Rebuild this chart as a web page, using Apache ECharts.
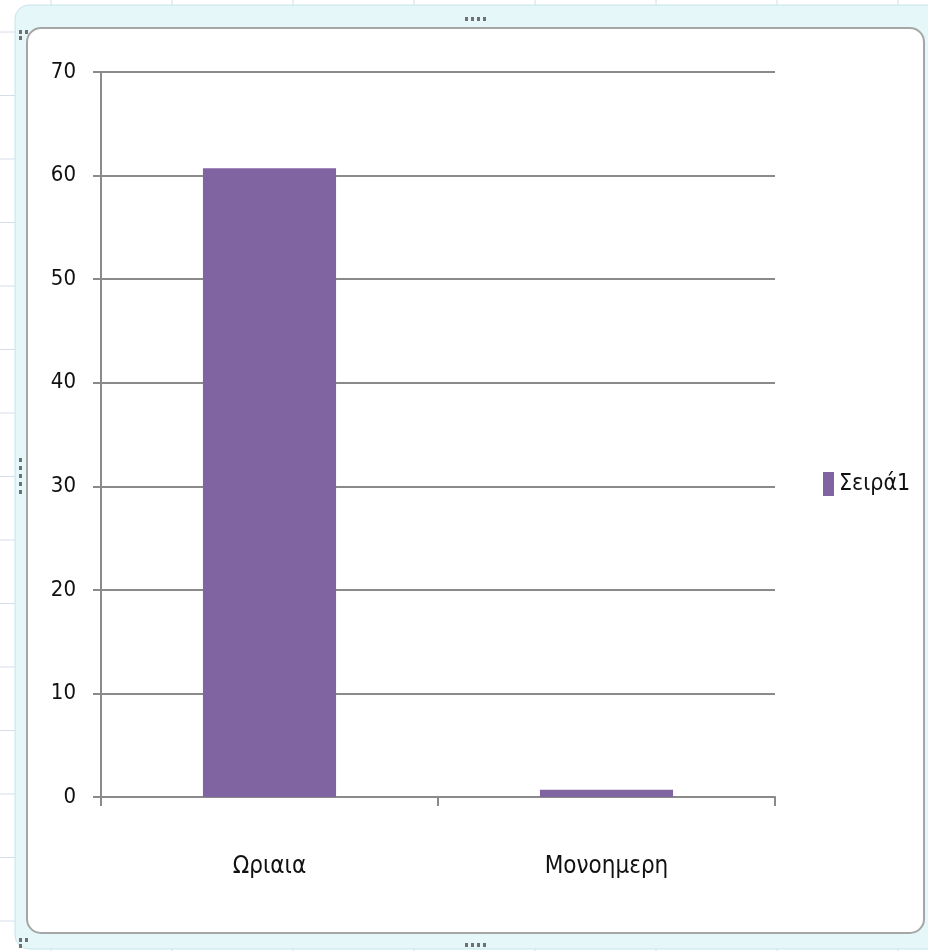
<!DOCTYPE html>
<html>
<head>
<meta charset="utf-8">
<script src="https://cdn.jsdelivr.net/npm/echarts@6/dist/echarts.min.js"></script>
<style>
html,body{margin:0;padding:0;background:#ffffff;}
#chart{width:928px;height:951px;}
</style>
</head>
<body>
<div id="chart"></div>
<script>
const categories = ['Ωριαια', 'Μονοημερη'];
const seriesName = 'Σειρά1';
const values = [60.7, 0.7];
const yTicks = { min: 0, max: 70, interval: 10 };

const FONT = 'DejaVu Sans Condensed, Liberation Sans Narrow, sans-serif';
const chart = echarts.init(document.getElementById('chart'), null, { renderer: 'canvas' });

// decorative spreadsheet background
const bg = [];
const sheetLine = '#d6dde8';
for (let x = 51; x < 928; x += 121) {
  bg.push({ type: 'line', z: -10, shape: { x1: x, y1: 0, x2: x, y2: 951 }, style: { stroke: sheetLine, lineWidth: 1 } });
}
for (let y = 921; y > 0; y -= 63.5) {
  bg.push({ type: 'line', z: -10, shape: { x1: 0, y1: y, x2: 928, y2: y }, style: { stroke: sheetLine, lineWidth: 1 } });
}
// selection frame
bg.push({ type: 'rect', z: -9, shape: { x: 15, y: 5, width: 930, height: 944, r: 14 }, style: { fill: '#e6f7fa', stroke: '#c4e4ea', lineWidth: 1 } });
bg.push({ type: 'rect', z: -8, shape: { x: 27, y: 28, width: 897, height: 905, r: 14 }, style: { fill: '#ffffff', stroke: '#a6a6a6', lineWidth: 2 } });
// handle dots
const dots = [[465,17],[471,17],[477,17],[483,17],[465,943],[471,943],[477,943],[483,943],[19,458],[19,466],[19,474],[19,482],[19,490],[19,30],[25,30],[19,36],[19,938],[25,938],[19,944]];
dots.forEach(d => bg.push({ type: 'rect', z: -7, shape: { x: d[0], y: d[1], width: 3, height: 4 }, style: { fill: '#707070' } }));

chart.setOption({
  animation: false,
  backgroundColor: 'transparent',
  textStyle: { fontFamily: FONT },
  graphic: bg,
  grid: { left: 101, right: 153, top: 72, bottom: 154, containLabel: false },
  legend: {
    orient: 'vertical',
    left: 818, top: 467,
    icon: 'rect',
    itemWidth: 11, itemHeight: 24, itemGap: 6,
    textStyle: { fontSize: 23, color: '#111', fontFamily: FONT },
    data: [seriesName]
  },
  xAxis: {
    type: 'category',
    data: categories,
    axisLine: { show: true, lineStyle: { color: '#8a8a8a', width: 2 } },
    axisTick: { show: true, length: 9, lineStyle: { color: '#8a8a8a', width: 2 } },
    axisLabel: { fontSize: 24, color: '#111', margin: 58 },
    splitLine: { show: false }
  },
  yAxis: {
    type: 'value',
    min: yTicks.min, max: yTicks.max, interval: yTicks.interval,
    axisLine: { show: true, lineStyle: { color: '#8a8a8a', width: 2 } },
    axisTick: { show: true, length: 8, lineStyle: { color: '#8a8a8a', width: 2 } },
    axisLabel: { fontSize: 22, color: '#111', margin: 25 },
    splitLine: { show: true, lineStyle: { color: '#8a8a8a', width: 2 } }
  },
  series: [{
    name: seriesName,
    type: 'bar',
    data: values,
    barWidth: '39.5%',
    itemStyle: { color: '#8064a2' }
  }]
});
</script>
</body>
</html>
